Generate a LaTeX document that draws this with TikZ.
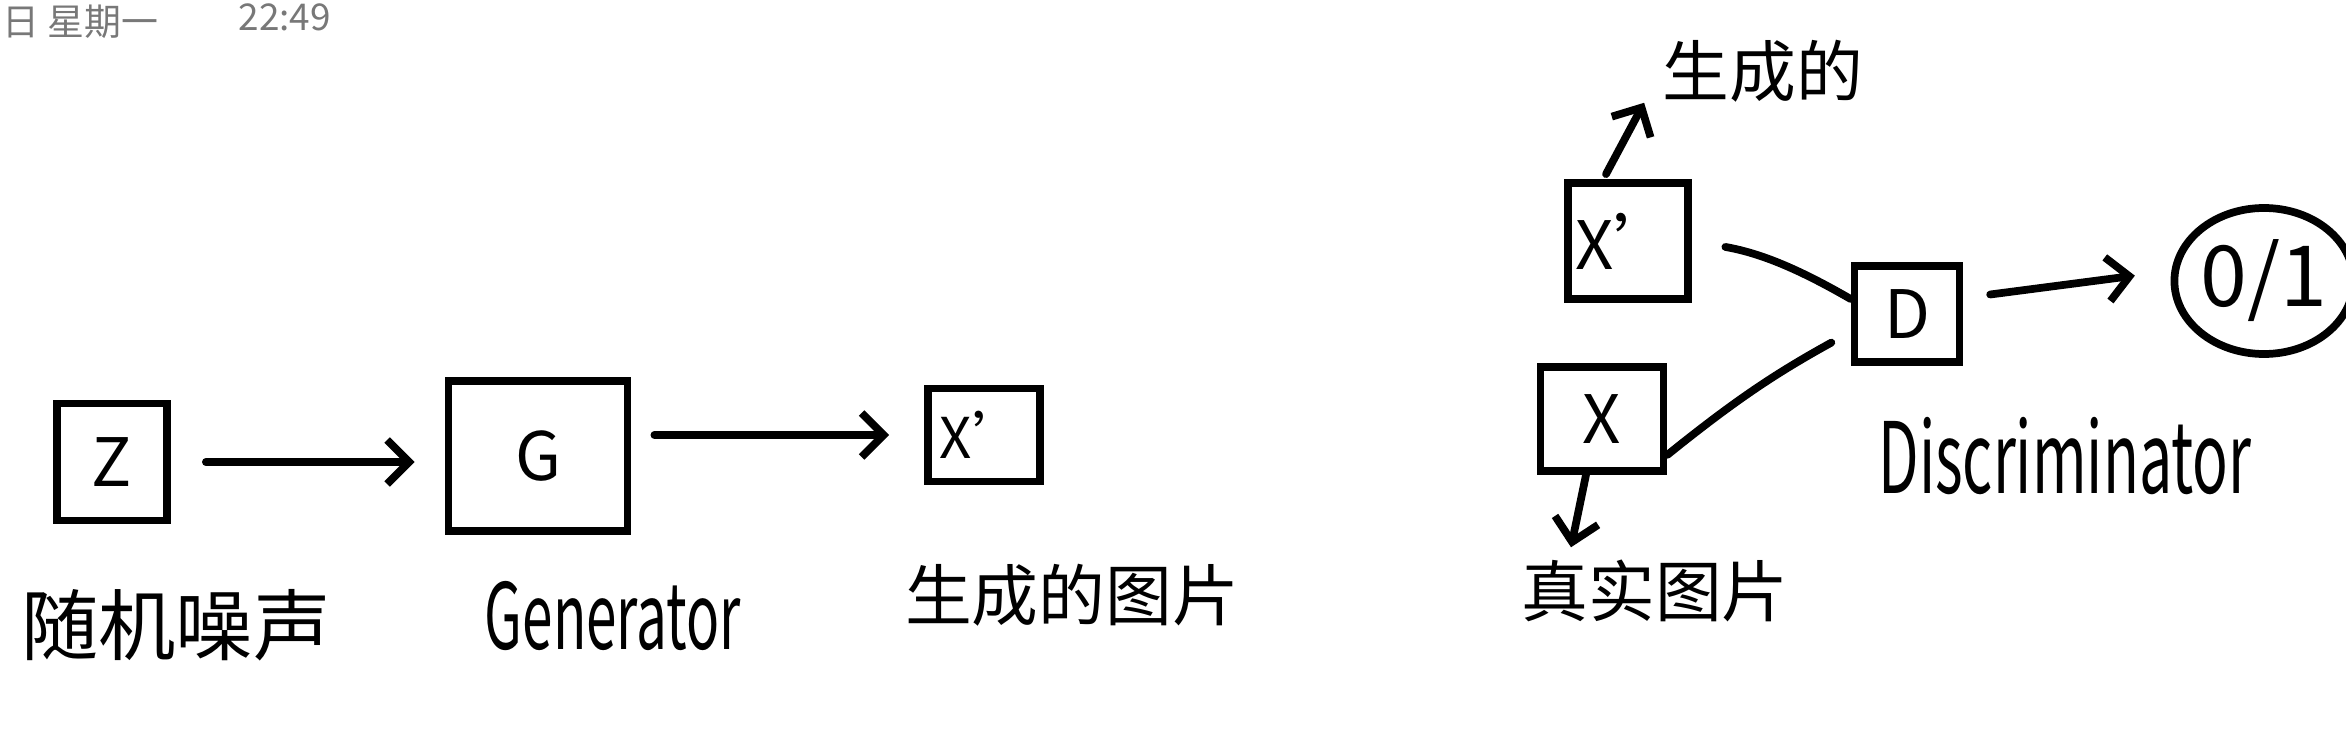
\documentclass[tikz,border=0pt]{standalone}
\usepackage{fontspec}
\usepackage{xcolor}
\usepackage{tikz}
\setmainfont{Noto Sans CJK SC}
\definecolor{ink}{RGB}{0,0,0}
\definecolor{stamp}{RGB}{120,120,120}
\usetikzlibrary{arrows.meta,positioning,calc,shapes.geometric}

\begin{document}
\begin{tikzpicture}[x=1cm,y=1cm,
    box/.style={draw=ink, line width=2.2pt, inner sep=0pt},
    hand/.style={inner sep=0pt, font=\fontsize{19}{19}\selectfont},
    latin/.style={inner sep=0pt, font=\fontsize{28}{28}\selectfont, xscale=0.6, transform shape},
    wire/.style={draw=ink, line width=2.2pt, line cap=round},
    arr/.style={wire, -{Straight Barb[length=2.2mm,width=4.4mm]}}]
    \useasboundingbox (0,0) rectangle (23.46,7.3);

    % Time stamp - top left
    \node[anchor=north west, inner sep=0pt, text=stamp, font=\fontsize{10.5}{11}\selectfont] (day) at (0.02,7.26) {日 星期一};
    \node[anchor=north west, inner sep=0pt, text=stamp, font=\fontsize{10.5}{11}\selectfont] (clock) at (2.38,7.27) {22:49};

    % Boxes
    \foreach \n/\x/\y/\w/\h/\s/\t in {z/1.12/2.68/1.1/1.17/19/Z, g/5.38/2.74/1.79/1.5/19/G, xg/9.84/2.95/1.12/0.93/16/X', xf/16.28/4.89/1.2/1.16/19/X', xr/16.02/3.11/1.23/1.04/19/X, d/19.07/4.16/1.05/0.96/19/D} {
        \node[box, minimum width=\w cm, minimum height=\h cm, font=\fontsize{\s}{\s}\selectfont] (\n) at (\x,\y) {\t};
    }
    \node[draw=ink, line width=2.2pt, ellipse, inner sep=0pt, minimum width=1.52cm, minimum height=1.46cm, font=\fontsize{24}{24}\selectfont] (out) at (22.64,4.49) {0/1};

    % Labels
    \node[hand, font=\fontsize{22}{22}\selectfont] (noise) at (1.76,1.05) {随机噪声};
    \node[latin, font=\fontsize{26}{26}\selectfont] (gen) at (6.13,1.14) {Generator};
    \node[hand] (genimg) at (10.72,1.35) {生成的图片};
    \node[hand] (real) at (16.55,1.39) {真实图片};
    \node[hand] (fake) at (17.63,6.59) {生成的};
    \node[latin] (disc) at (20.65,2.74) {Discriminator};

    % Generator chain
    \draw[arr, shorten <=0.35cm, shorten >=0.3cm] (z.east) -- (z.east -| g.west);
    \draw[arr, shorten <=0.23cm, shorten >=0.35cm] (xg.west -| g.east) -- (xg.west);

    % Discriminator side
    \draw[arr] ([xshift=-0.22cm,yshift=0.05cm]xf.north) -- ([xshift=-0.18cm]fake.south west);
    \draw[arr] ([xshift=-0.16cm]xr.south) -- ([xshift=-0.84cm,yshift=0.12cm]real.north);
    \draw[wire, shorten <=0.34cm] (xf.east) to[bend left=10] ([yshift=0.15cm]d.west);
    \draw[wire, shorten >=0.22cm] ([yshift=0.2cm]xr.south east) to[bend left=5] ([yshift=-0.18cm]d.west);
    \draw[arr, shorten <=0.27cm, shorten >=0.36cm] ([yshift=0.16cm]d.east) -- ([yshift=0.1cm]out.west);
\end{tikzpicture}
\end{document}
